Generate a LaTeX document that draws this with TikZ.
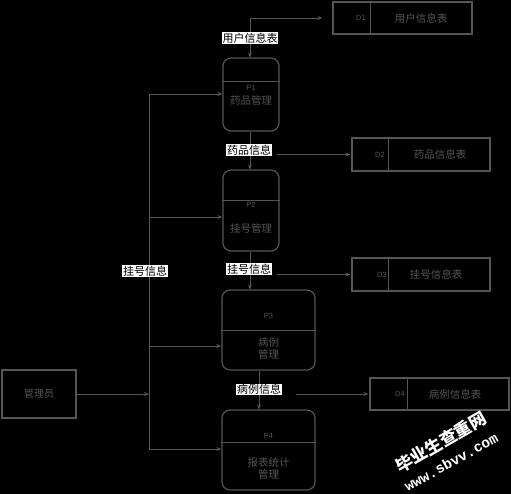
\documentclass[tikz,border=0pt]{standalone}
\usepackage{fontspec}
\setmainfont{Liberation Sans}
\newfontfamily\cjk{Noto Sans CJK SC}
\newfontfamily\wmono{Liberation Mono}
\usetikzlibrary{arrows.meta}
\definecolor{ln}{HTML}{555555}
\definecolor{tx}{HTML}{545454}
\begin{document}
\begin{tikzpicture}[x=1pt,y=-1pt,
  proc/.style={draw=ln,line width=1.2pt,rounded corners=8pt,inner sep=0pt},
  store/.style={draw=ln,line width=1.2pt,inner sep=0pt},
  ent/.style={draw=ln,line width=1.2pt,inner sep=0pt,font=\cjk\fontsize{10}{12}\selectfont,text=tx},
  ttl/.style={font=\cjk\fontsize{10.5}{12}\selectfont,text=tx,inner sep=0pt},
  pid/.style={font=\fontsize{7.5}{9}\selectfont,text=tx,inner sep=0pt},
  lab/.style={fill=white,text=black,font=\cjk\fontsize{11}{12}\selectfont,inner sep=0.6pt},
  conn/.style={draw=ln,line width=0.8pt},
  arr/.style={conn,-{Stealth[length=5pt,width=4pt]}}]
\fill[black] (0,0) rectangle (511,494);
\useasboundingbox (0,0) rectangle (511,494);

% processes
\node[proc,minimum width=56pt,minimum height=73pt] (P1) at (251,94.5) {};
\draw[ln,line width=1pt] (P1.west |- 0,82) -- (P1.east |- 0,82);
\node[pid] (P1id) at (251,88) {P1};
\node[ttl] (P1t) at (251,100.5) {药品管理};

\node[proc,minimum width=56pt,minimum height=81pt] (P2) at (251,210.5) {};
\draw[ln,line width=1pt] (P2.west |- 0,201) -- (P2.east |- 0,201);
\node[pid] (P2id) at (251,205) {P2};
\node[ttl] (P2t) at (251,228.5) {挂号管理};

\node[proc,minimum width=93pt,minimum height=80pt] (P3) at (268.5,330) {};
\draw[ln,line width=1pt] (P3.west |- 0,330) -- (P3.east |- 0,330);
\node[pid] (P3id) at (268.5,316) {P3};
\node[ttl,align=center] (P3t) at (268.5,348.5) {病例\\管理};

\node[proc,minimum width=93pt,minimum height=80pt] (P4) at (268.5,450) {};
\draw[ln,line width=1pt] (P4.west |- 0,442) -- (P4.east |- 0,442);
\node[pid] (P4id) at (268.5,436) {P4};
\node[ttl,align=center] (P4t) at (268.5,468.5) {报表统计\\管理};

% data stores
\node[store,minimum width=139pt,minimum height=32pt] (D1) at (402.5,18) {};
\draw[ln,line width=1pt] (370,2) -- (370,34);
\node[pid] (D1id) at (361,18) {D1};
\node[ttl] (D1t) at (421,18) {用户信息表};

\node[store,minimum width=138pt,minimum height=33pt] (D2) at (421,154.5) {};
\draw[ln,line width=1pt] (388,138) -- (388,171);
\node[pid] (D2id) at (380,154.5) {D2};
\node[ttl] (D2t) at (440,154.5) {药品信息表};

\node[store,minimum width=138pt,minimum height=33pt] (D3) at (421,274.5) {};
\draw[ln,line width=1pt] (388,258) -- (388,291);
\node[pid] (D3id) at (382,274.5) {D3};
\node[ttl] (D3t) at (436,274.5) {挂号信息表};

\node[store,minimum width=139pt,minimum height=32pt] (D4) at (439.5,394) {};
\draw[ln,line width=1pt] (407,378) -- (407,410);
\node[pid] (D4id) at (400,394) {D4};
\node[ttl] (D4t) at (455,394) {病例信息表};

% external entity
\node[ent,minimum width=74pt,minimum height=48pt] (adm) at (39,394) {管理员};

% bus from administrator
\coordinate (btop) at (149,94);
\coordinate (bmid) at (149,394);
\coordinate (b2) at (149,217);
\coordinate (b3) at (149,346);
\coordinate (bbot) at (149,449);
\draw[arr] (adm.east) -- (bmid);
\draw[conn] (btop) -- (bbot);
\draw[arr] (btop) -- (P1.west |- btop);
\draw[arr] (b2) -- (P2.west |- b2);
\draw[arr] (b3) -- (P3.west |- b3);
\draw[arr] (bbot) -- (P4.west |- bbot);
\node[lab] (Lbus) at (145,271) {挂号信息};

% user info
\coordinate (c1) at (250,18);
\draw[arr] (c1) -- (P1.north -| c1);
\draw[arr] (c1) -- ([xshift=-10pt]D1.west);
\node[lab] (L1) at (250,38) {用户信息表};

% drug info
\draw[arr] (P1.south -| 250,0) -- (P2.north -| 250,0);
\node[lab] (L2) at (249,150) {药品信息};
\coordinate (c2) at (277,154.5);
\draw[arr] (c2) -- ([xshift=-1pt]D2.west);

% registration info
\draw[arr] (P2.south -| 250,0) -- (P3.north -| 250,0);
\node[lab] (L3) at (249,269) {挂号信息};
\coordinate (c3) at (277,274.5);
\draw[arr] (c3) -- ([xshift=-1pt]D3.west);

% case info
\draw[arr] (P3.south -| 259,0) -- (P4.north -| 259,0);
\node[lab] (L4) at (259,389.5) {病例信息};
\coordinate (c4) at (296,394);
\draw[arr] (c4) -- ([xshift=-1pt]D4.west);

% watermark
\node[text=white,rotate=30,font=\cjk\bfseries\fontsize{17}{20}\selectfont,inner sep=0pt] (wm1) at (441,442) {毕业生查重网};
\node[text=white,rotate=29,font=\wmono\bfseries\fontsize{14.5}{16}\selectfont,inner sep=0pt] (wm2) at (451,462) {www.sbvv.com};
\end{tikzpicture}
\end{document}
